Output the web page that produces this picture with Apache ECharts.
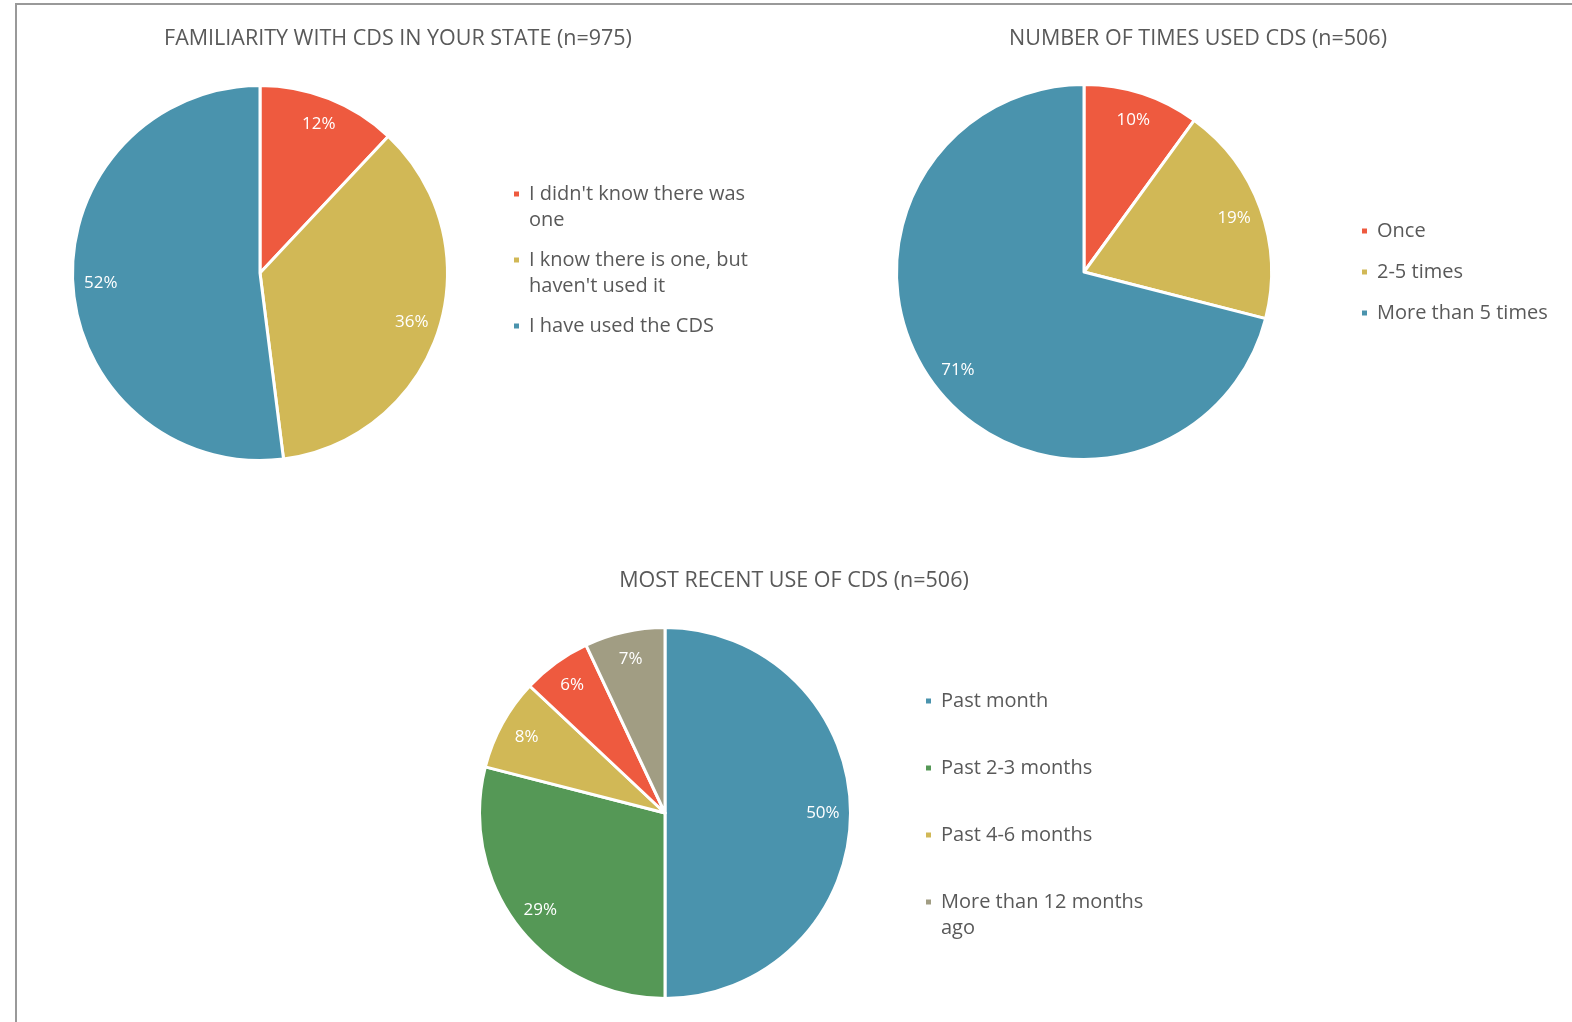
<!DOCTYPE html>
<html>
<head>
<meta charset="utf-8">
<script src="https://cdn.jsdelivr.net/npm/echarts@6/dist/echarts.min.js"></script>
<style>
  html, body { margin: 0; padding: 0; background: #fff; }
  #chart { width: 1572px; height: 1022px; }
</style>
</head>
<body>
<div id="chart"></div>
<script>
const FONT = '"Open Sans", Lato, sans-serif';
const TEXT = '#595959';

const familiarityNames = ["I didn't know there was one", "I know there is one, but haven't used it", 'I have used the CDS'];
const familiarityValues = [12, 36, 52];
const familiarityColors = ['#ee5a3f', '#d1b856', '#4a93ad'];

const timesNames = ['Once', '2-5 times', 'More than 5 times'];
const timesValues = [10, 19, 71];
const timesColors = ['#ee5a3f', '#d1b856', '#4a93ad'];

const recentNames = ['Past month', 'Past 2-3 months', 'Past 4-6 months', 'Past 7-12 months', 'More than 12 months ago'];
const recentValues = [50, 29, 8, 6, 7];
const recentColors = ['#4a93ad', '#559856', '#d1b856', '#ee5a3f', '#a19d83'];
const recentLegend = ['Past month', 'Past 2-3 months', 'Past 4-6 months', 'More than 12 months ago'];

// legend entries that wrap onto two lines
const twoLine = ["I didn't know there was one", "I know there is one, but haven't used it", 'More than 12 months ago'];

function toData(names, values, colors) {
    return names.map((n, i) => ({ name: n, value: values[i], itemStyle: { color: colors[i] } }));
}

// slices drawn by one series, labels by a transparent ring over it so they sit near the rim
function pieSeries(name, names, values, colors, center, r) {
    return [{
        name,
        type: 'pie',
        center,
        radius: r,
        startAngle: 90,
        clockwise: true,
        silent: true,
        label: { show: false },
        labelLine: { show: false },
        itemStyle: { borderColor: '#fff', borderWidth: 3 },
        data: toData(names, values, colors),
    }, {
        name: name + ' labels',
        type: 'pie',
        center,
        radius: [r * 0.67, r],
        startAngle: 90,
        clockwise: true,
        silent: true,
        legendHoverLink: false,
        itemStyle: { color: 'rgba(0,0,0,0)', borderWidth: 0 },
        label: {
            show: true,
            position: 'inside',
            formatter: '{c}%',
            color: '#fff',
            fontFamily: FONT,
            fontSize: 17,
        },
        labelLine: { show: false },
        data: names.map((n, i) => ({ name: n + ' ', value: values[i] })),
    }];
}

// the marker sits on the first line: pad every item to the same height,
// two-line items only above, one-line items above and below
function legendData(names, padded) {
    return names.map(n => {
        if (!padded) return { name: n };
        const wrap = twoLine.includes(n);
        return { name: n, textStyle: { padding: wrap ? [26, 0, 0, 4] : [26, 0, 26, 4] } };
    });
}

function legend(names, left, top, gap, width, padded) {
    return {
        orient: 'vertical',
        left,
        top,
        itemGap: gap,
        icon: 'rect',
        itemWidth: 7,
        itemHeight: 7,
        selectedMode: false,
        data: legendData(names, padded),
        textStyle: {
            color: TEXT,
            fontFamily: FONT,
            fontSize: 20,
            lineHeight: 26,
            width,
            overflow: 'break',
            padding: [0, 0, 0, 4],
            rich: { n: {} },
        },
    };
}

function title(text, x, top) {
    return {
        text,
        left: x,
        top,
        textAlign: 'center',
        textStyle: { color: TEXT, fontFamily: FONT, fontSize: 21.5, fontWeight: 'normal' },
    };
}

const chart = echarts.init(document.getElementById('chart'), null, { renderer: 'canvas' });

chart.setOption({
    animation: false,
    backgroundColor: '#fff',
    title: [
        title('FAMILIARITY WITH CDS IN YOUR STATE (n=975)', 393, 23),
        title('NUMBER OF TIMES USED CDS (n=506)', 1193, 23),
        title('MOST RECENT USE OF CDS (n=506)', 789, 565),
    ],
    legend: [
        legend(familiarityNames, 507, 150, -12, 240, true),
        legend(timesNames, 1355, 213, 15, 220, false),
        legend(recentLegend, 919, 657, -11, 215, true),
    ],
    graphic: [{
        type: 'polyline',
        shape: { points: [[16, 1022], [16, 4], [1572, 4]] },
        style: { stroke: '#999', lineWidth: 2, fill: null },
        silent: true,
    }],
    series: [
        ...pieSeries('Familiarity', familiarityNames, familiarityValues, familiarityColors, [260, 273], 187.5),
        ...pieSeries('Times used', timesNames, timesValues, timesColors, [1084, 272], 187.5),
        ...pieSeries('Most recent', recentNames, recentValues, recentColors, [665, 813], 185.5),
    ],
});

window.addEventListener('resize', () => chart.resize());
</script>
</body>
</html>
